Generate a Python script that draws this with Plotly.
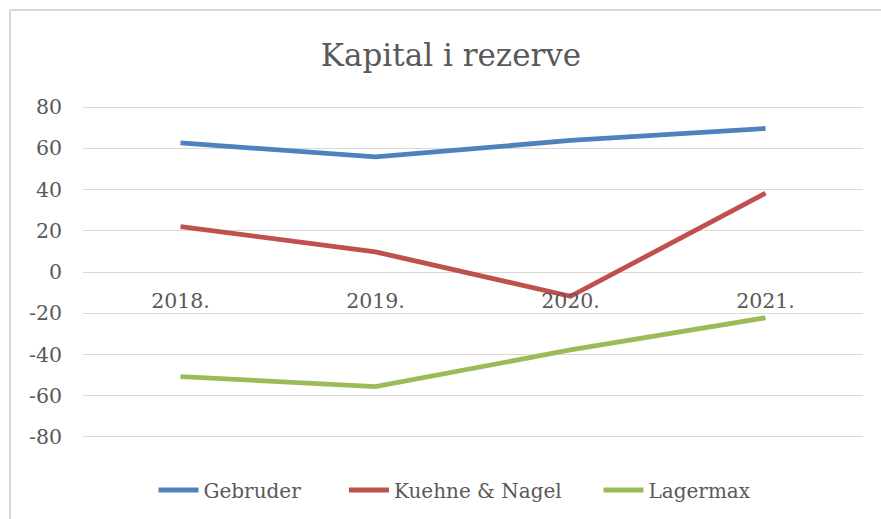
import plotly.graph_objects as go

categories = ["2018.", "2019.", "2020.", "2021."]
gebruder = [62.6, 55.8, 63.8, 69.6]
kuehne_nagel = [22.0, 9.8, -11.8, 38.2]
lagermax = [-50.7, -55.6, -37.8, -22.2]
y_ticks = [-80, -60, -40, -20, 0, 20, 40, 60, 80]
y_tick_text = ["-80", "-60", "-40", "-20", "0", "20", "40", "60", "80"]
series_names = ["Gebruder", "Kuehne & Nagel", "Lagermax"]

FONT = "DejaVu Serif"
GRAY = "#595959"
NB = "\u00a0"

W, H = 881, 519
L, R, T, B = 83, 18, 106, 81

fig = go.Figure()
pads = [6, 5, 0]
for name, vals, color, pad in zip(series_names, [gebruder, kuehne_nagel, lagermax],
                                  ["#4f81bd", "#c0504d", "#9bbb59"], pads):
    fig.add_trace(go.Scatter(x=categories, y=vals, name=name + NB * pad, mode="lines",
                             line=dict(color=color, width=4.8)))

pw = W - L - R
ph = H - T - B
def px_x(p):
    return (p - L) / pw
def px_y(p):
    return (H - B - p) / ph

# chart border (left and top edges visible)
fig.add_shape(type="line", xref="paper", yref="paper",
              x0=px_x(10), x1=px_x(10), y0=px_y(10), y1=px_y(530),
              line=dict(color="#d9d9d9", width=2))
fig.add_shape(type="line", xref="paper", yref="paper",
              x0=px_x(10), x1=px_x(890), y0=px_y(10), y1=px_y(10),
              line=dict(color="#d9d9d9", width=2))

fig.update_layout(
    width=W, height=H,
    margin=dict(l=L, r=R, t=T, b=B, autoexpand=False),
    paper_bgcolor="white", plot_bgcolor="white",
    font=dict(family=FONT, color=GRAY, size=20.5),
    title=dict(text="Kapital i rezerve", x=451 / W, xref="container", xanchor="center",
               y=1 - 55 / H, yref="container", yanchor="middle",
               font=dict(family=FONT, size=31, color=GRAY)),
    xaxis=dict(type="category", range=[-0.5, 3.5], showgrid=False, showline=False,
               zeroline=False, anchor="free", position=0.5,
               ticks="", ticklabelstandoff=14,
               tickfont=dict(family=FONT, size=20.5, color=GRAY)),
    yaxis=dict(range=[-80.5, 80.5], tickvals=y_ticks, ticktext=y_tick_text,
               showgrid=True, gridcolor="#d9d9d9",
               gridwidth=1.3, zeroline=True, zerolinecolor="#d9d9d9", zerolinewidth=1.3,
               showline=False, ticks="", ticklabelstandoff=20,
               tickfont=dict(family=FONT, size=20.5, color=GRAY)),
    legend=dict(orientation="h", xref="container", yref="container",
                x=455 / W, xanchor="center", y=1 - 490 / H, yanchor="middle",
                font=dict(family=FONT, size=20, color=GRAY), itemwidth=40,
                bgcolor="rgba(0,0,0,0)"),
    showlegend=True,
)

fig.write_html("out.html", config={"displayModeBar": False},
               post_script="document.body.style.margin='0';")
